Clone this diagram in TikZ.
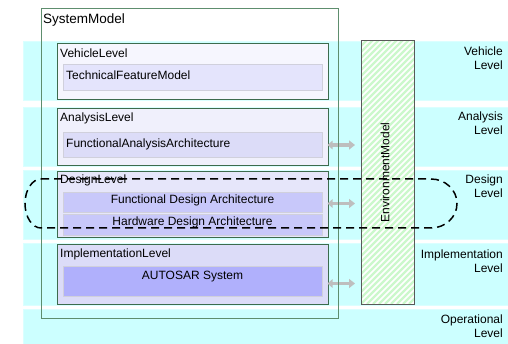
\documentclass[tikz,border=0pt]{standalone}
\usepackage{fontspec}
\setmainfont{Liberation Sans}
\usetikzlibrary{arrows.meta}
\definecolor{bandc}{HTML}{CCFFFF}
\definecolor{sysc}{HTML}{5E8E6E}
\definecolor{lvlc}{HTML}{3D6B4D}
\definecolor{innerb}{HTML}{D0D0DC}
\definecolor{vo}{HTML}{F6F6FE}
\definecolor{vi}{HTML}{E4E4FC}
\definecolor{ao}{HTML}{F0F0FC}
\definecolor{ai}{HTML}{DCDCF8}
\definecolor{do}{HTML}{E6E6FA}
\definecolor{di}{HTML}{C8C8FA}
\definecolor{io}{HTML}{DCDCF8}
\definecolor{ii}{HTML}{B0B0FC}
\definecolor{hatchc}{HTML}{CCF8CC}
\definecolor{arrc}{HTML}{BEBEBE}
\tikzset{
  box/.style={rectangle, inner sep=0pt, anchor=north west},
  band/.style={box, fill=bandc, draw=bandc!70!white, line width=0.5pt},
  lvlbox/.style={box, draw=lvlc, line width=1.1pt},
  innerbox/.style={box, draw=innerb, line width=1pt},
  lbl/.style={inner sep=0pt, anchor=west, font=\fontsize{12}{13}\selectfont},
  ctext/.style={inner sep=0pt, font=\fontsize{12}{13}\selectfont},
  rlbl/.style={inner sep=0pt, anchor=east, align=right, font=\fontsize{12}{14}\selectfont},
  garrow/.style={draw=arrc, line width=3.2pt, {Triangle[width=8.5pt,length=5pt]}-{Triangle[width=9pt,length=6pt]}},
}
\begin{document}
\begin{tikzpicture}[x=1pt,y=-1pt]
\useasboundingbox (0,0) rectangle (508,344);
% bands
\node[band, minimum width=485pt, minimum height=59pt] (bv) at (23,41) {};
\node[band, minimum width=485pt, minimum height=59pt] (ba) at (23,107) {};
\node[band, minimum width=485pt, minimum height=69pt] (bd) at (23,170) {};
\node[band, minimum width=485pt, minimum height=62pt] (bi) at (23,243) {};
\node[band, minimum width=485pt, minimum height=36pt] (bo) at (23,309) {};
% band labels
\node[rlbl] (lv) at (503,58) {Vehicle\\Level};
\node[rlbl] (la) at (503,123.5) {Analysis\\Level};
\node[rlbl] (ld) at (503,186.5) {Design\\Level};
\node[rlbl] (li) at (503,261) {Implementation\\Level};
\node[rlbl] (lo) at (503,326.5) {Operational\\Level};
% vehicle level
\node[lvlbox, fill=vo, minimum width=271pt, minimum height=56pt] (vl) at (57,43) {};
\node[lbl] (vlt) at (60,53) {VehicleLevel};
\node[innerbox, fill=vi, minimum width=259pt, minimum height=26pt] (tfm) at (63,64) {};
\node[lbl] (tfmt) at (66,75.5) {TechnicalFeatureModel};
% analysis level
\node[lvlbox, fill=ao, minimum width=271pt, minimum height=57pt] (al) at (57,108) {};
\node[lbl] (alt) at (60,118.5) {AnalysisLevel};
\node[innerbox, fill=ai, minimum width=259pt, minimum height=25pt] (faa) at (63,132) {};
\node[lbl] (faat) at (66,144) {FunctionalAnalysisArchitecture};
% design level
\node[lvlbox, fill=do, minimum width=271pt, minimum height=66pt] (dl) at (57,171) {};
\node[lbl] (dlt) at (60,180.5) {DesignLevel};
\node[innerbox, fill=di, minimum width=259pt, minimum height=20pt] (fda) at (63,192) {};
\node[ctext] (fdat) at (192.5,200.5) {Functional Design Architecture};
\node[innerbox, fill=di, minimum width=259pt, minimum height=21pt] (hda) at (63,214) {};
\node[ctext] (hdat) at (192.5,222.5) {Hardware Design Architecture};
% implementation level
\node[lvlbox, fill=io, minimum width=271pt, minimum height=60pt] (il) at (57,244) {};
\node[lbl] (ilt) at (60,254.5) {ImplementationLevel};
\node[innerbox, fill=ii, minimum width=259pt, minimum height=30pt] (aut) at (63,266) {};
\node[ctext] (autt) at (192.5,277) {AUTOSAR System};
% environment model
\node[box, fill=white, minimum width=53pt, minimum height=263pt] (env) at (361,41) {};
\begin{scope}
\clip (env.north west) rectangle (env.south east);
\foreach \i in {-270,-264,...,60} {
  \draw[hatchc, line width=2.2pt] (361+\i,304) -- ++(270,-270);
}
\end{scope}
\draw[draw=black!65, line width=1pt] (env.north west) rectangle (env.south east);
\node[ctext, rotate=90] (envt) at (385,172.5) {EnvironmentModel};
% arrows
\draw[garrow, shorten <=4.5pt, shorten >=6pt] (faa.east) -- (faa.east -| env.west);
\draw[garrow, shorten <=4.5pt, shorten >=6pt] ([yshift=-1pt]fda.east) -- ([yshift=-1pt]fda.east -| env.west);
\draw[garrow, shorten <=4.5pt, shorten >=6pt] ([yshift=-2pt]aut.east) -- ([yshift=-2pt]aut.east -| env.west);
% system model
\node[box, draw=sysc, line width=1pt, minimum width=297.5pt, minimum height=310pt] (sys) at (40.5,8) {};
\node[lbl, font=\fontsize{13.5}{15}\selectfont] (syst) at (43,20) {SystemModel};
% dashed grouping
\draw[black, line width=1.5pt, dash pattern=on 8pt off 5pt]
  (41,179) -- (431,179) arc[start angle=-90, end angle=90, x radius=26, y radius=24.5]
  -- (41,228) arc[start angle=90, end angle=270, x radius=16, y radius=24.5] -- cycle;
\end{tikzpicture}
\end{document}
